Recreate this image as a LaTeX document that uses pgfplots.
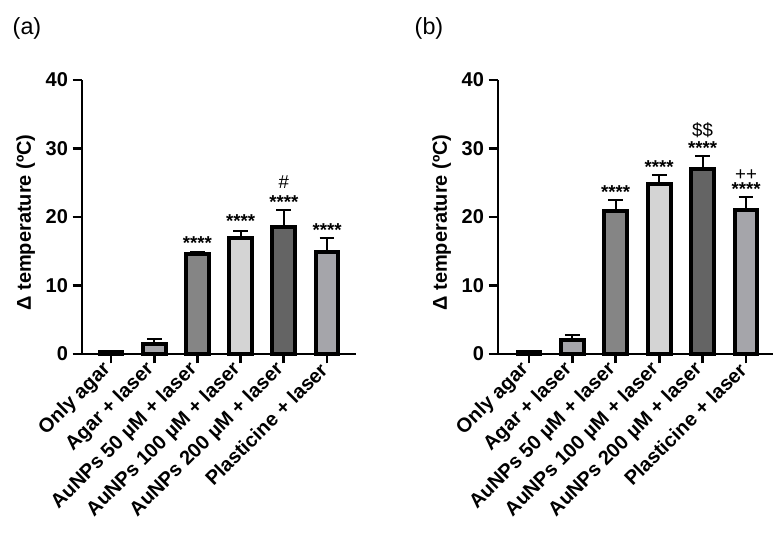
\documentclass[border=0pt]{standalone}
\usepackage{fontspec}
\setmainfont{Liberation Sans}
\usepackage{pgfplots}
\pgfplotsset{compat=1.18}

\definecolor{barA}{HTML}{FFFFFF}
\definecolor{barB}{HTML}{A5A5AA}
\definecolor{barC}{HTML}{858585}
\definecolor{barD}{HTML}{D4D4D4}
\definecolor{barE}{HTML}{646464}
\definecolor{barF}{HTML}{A5A5AA}

\newcommand{\tfont}{\bfseries\fontsize{15}{15}\selectfont}
\newcommand{\sfont}{\bfseries\fontsize{14}{14}\selectfont}

\pgfplotsset{
  panel/.style={
    scale only axis,
    height=205.5pt,
    ymin=0, ymax=40, ytick={0,10,20,30,40},
    axis x line=bottom, axis y line=left,
    axis line style={-, line width=2pt, black},
    tick align=outside, major tick length=7pt,
    tick style={line width=2pt, black},
    xtick={0,1,2,3,4,5},
    xticklabels={Only agar, Agar + laser, AuNPs 50 µM + laser,
      AuNPs 100 µM + laser, AuNPs 200 µM + laser, Plasticine + laser},
    xticklabel style={rotate=45, anchor=east, font=\tfont},
    yticklabel style={font=\tfont},
    /pgf/number format/assume math mode=true,
    ylabel={Δ temperature (ºC)},
    ylabel style={font=\tfont, at={(axis description cs:-0.205,0.48)}, anchor=center},
    ybar, bar width=17pt, bar shift=0pt,
    every axis plot/.append style={draw=black, line width=3pt},
    error bars/y dir=plus, error bars/y explicit,
    error bars/error bar style={line width=1.5pt, black},
    error bars/error mark options={rotate=90, line width=1.5pt, black, mark size=5.5pt},
    clip=false,
  },
}
\tikzset{annot/.style={font=\sfont, anchor=base, inner sep=0pt}}

\begin{document}
\begin{tikzpicture}
\useasboundingbox (0pt,0pt) rectangle (584.25pt,409.5pt);

\node[font=\fontsize{17.5}{17.5}\selectfont] at (20.25pt,388pt) {(a)};
\node[font=\fontsize{17.5}{17.5}\selectfont] at (321.75pt,388pt) {(b)};

\begin{axis}[panel, at={(61.5pt,144pt)}, anchor=south west, width=205.5pt,
  xmin=-0.67, xmax=5.67]
\addplot[fill=barA] coordinates {(0,0.3) +- (0,0.1)};
\addplot[fill=barB] coordinates {(1,1.5) +- (0,0.7)};
\addplot[fill=barC] coordinates {(2,14.6) +- (0,0.3)};
\addplot[fill=barD] coordinates {(3,17.0) +- (0,1.0)};
\addplot[fill=barE] coordinates {(4,18.5) +- (0,2.5)};
\addplot[fill=barF] coordinates {(5,14.9) +- (0,2.0)};
\node[annot] at (axis cs:2,15.3) {****};
\node[annot] at (axis cs:3,18.4) {****};
\node[annot] at (axis cs:4,21.3) {****};
\node[annot] at (axis cs:5,17.2) {****};
\node[annot, font=\fontsize{14}{14}\selectfont] at (axis cs:4,24.2) {\#};
\end{axis}

\begin{axis}[panel, at={(373.5pt,144pt)}, anchor=south west, width=206.25pt,
  xmin=-0.71, xmax=5.62]
\addplot[fill=barA] coordinates {(0,0.35) +- (0,0.1)};
\addplot[fill=barB] coordinates {(1,2.0) +- (0,0.8)};
\addplot[fill=barC] coordinates {(2,20.9) +- (0,1.6)};
\addplot[fill=barD] coordinates {(3,24.8) +- (0,1.3)};
\addplot[fill=barE] coordinates {(4,27.0) +- (0,1.9)};
\addplot[fill=barF] coordinates {(5,21.0) +- (0,1.9)};
\node[annot] at (axis cs:2,22.7) {****};
\node[annot] at (axis cs:3,26.3) {****};
\node[annot] at (axis cs:4,29.1) {****};
\node[annot] at (axis cs:5,23.1) {****};
\node[annot, font=\fontsize{14}{14}\selectfont] at (axis cs:4,31.7) {\$\$};
\node[annot, font=\fontsize{14}{14}\selectfont] at (axis cs:5,25.4) {++};
\end{axis}
\end{tikzpicture}
\end{document}
